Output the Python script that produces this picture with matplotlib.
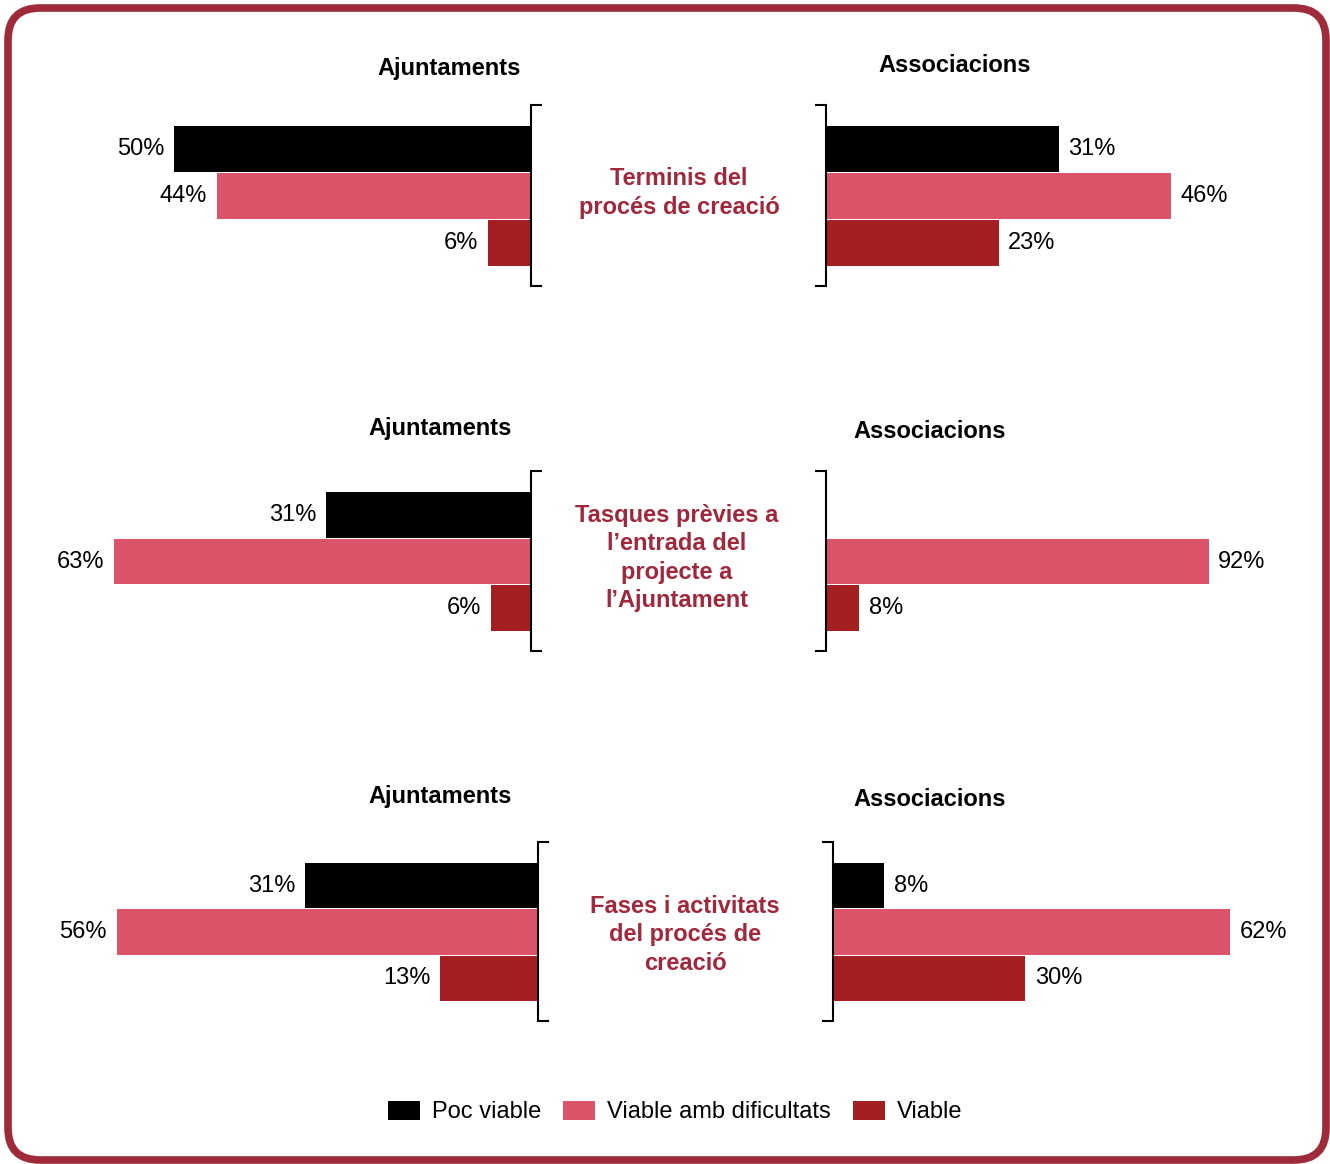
import matplotlib.pyplot as plt
from matplotlib.patches import FancyBboxPatch, Patch
from matplotlib.transforms import IdentityTransform

plt.rcParams['font.family'] = ['Liberation Sans', 'DejaVu Sans']

# data
series = ["Poc viable", "Viable amb dificultats", "Viable"]
topics = ["Terminis del\nprocés de creació",
          "Tasques prèvies a\nl’entrada del\nprojecte a\nl’Ajuntament",
          "Fases i activitats\ndel procés de\ncreació"]
ajuntaments = [[50, 44, 6], [31, 63, 6], [31, 56, 13]]
associacions = [[31, 46, 23], [0, 92, 8], [8, 62, 30]]

colors = ["#000000", "#DC546A", "#A31F22"]
title_color = "#A0283C"
border_color = "#9E2A3A"

W, H = 1330, 1164
fig = plt.figure(figsize=(W / 100, H / 100), dpi=100)

# layout in pixels (from top-left)
row_top = [105, 471, 842]
row_bot = [286, 651, 1021]
left_inner = [531, 531, 538]
right_inner = [826, 826, 833]
left_outer = 40
right_outer = 1300
left_xmax = [68.8, 74.2, 66.2]
right_xmax = [63.2, 114.0, 73.0]
title_left = [(449, 69), (440, 428), (440, 796)]
title_right = [(955, 65), (930, 431), (930, 799)]
topic_pos = [(679, 193), (677, 558), (685, 935)]


def fx(x):
    return x / W


def fy(y):
    return 1 - y / H


def panel(x0, x1, r, vals, xmax, side):
    ax = fig.add_axes([fx(x0), fy(row_bot[r]), fx(x1 - x0), (row_bot[r] - row_top[r]) / H])
    bars = ax.barh(range(3), vals, height=0.98, color=colors)
    ax.set_ylim(2.915, -0.937)
    if side == "left":
        ax.set_xlim(xmax, 0)
    else:
        ax.set_xlim(0, xmax)
    ax.bar_label(bars, labels=[f"{v}%" if v else "" for v in vals],
                 padding=7, fontsize=17)
    for s in ax.spines.values():
        s.set_visible(False)
    ax.set_xticks([])
    ax.set_yticks([])
    # bracket
    serif = 10 / (x1 - x0)
    if side == "left":
        bx, sx = 1, 1 + serif
    else:
        bx, sx = 0, -serif
    ax.plot([sx, bx, bx, sx], [1, 1, 0, 0], color="black", lw=1.5,
            transform=ax.transAxes, clip_on=False, solid_joinstyle="miter")
    return ax


for r in range(3):
    panel(left_outer, left_inner[r], r, ajuntaments[r], left_xmax[r], "left")
    panel(right_inner[r], right_outer, r, associacions[r], right_xmax[r], "right")
    fig.text(fx(title_left[r][0]), fy(title_left[r][1]), "Ajuntaments",
             ha="center", va="center", fontsize=17, fontweight="bold")
    fig.text(fx(title_right[r][0]), fy(title_right[r][1]), "Associacions",
             ha="center", va="center", fontsize=17, fontweight="bold")
    fig.text(fx(topic_pos[r][0]), fy(topic_pos[r][1]), topics[r],
             ha="center", va="center", multialignment="center",
             fontsize=17, fontweight="bold", color=title_color, linespacing=1.28)

handles = [Patch(facecolor=c) for c in colors]
fig.legend(handles, series, loc="center", bbox_to_anchor=(fx(675), fy(1112)),
           ncol=3, frameon=False, fontsize=17, handlelength=1.36,
           handleheight=0.89, handletextpad=0.5, columnspacing=0.93)

# rounded frame
frame = FancyBboxPatch((8, 4), 1318, 1152, boxstyle="round,pad=0,rounding_size=32",
                       transform=IdentityTransform(), fill=False,
                       edgecolor=border_color, lw=5.5)
fig.patches.append(frame)

fig.savefig("out.png", dpi=100)
